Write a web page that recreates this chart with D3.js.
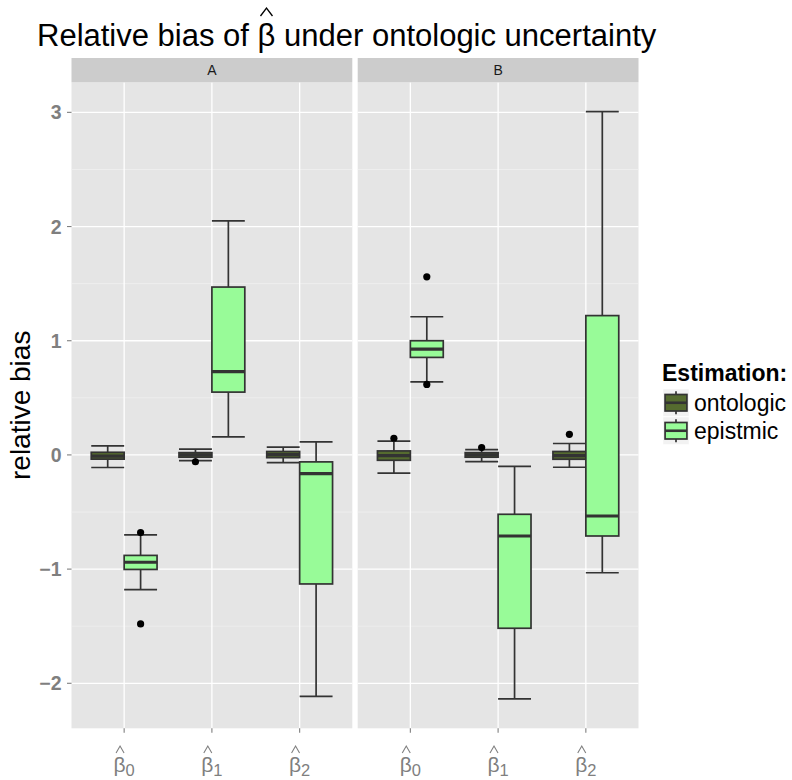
<!DOCTYPE html>
<html>
<head>
<meta charset="utf-8">
<script src="https://cdn.jsdelivr.net/npm/d3@7"></script>
<style>
  html, body { margin: 0; padding: 0; background: #ffffff; }
  svg { display: block; font-family: "Liberation Sans", Arial, Helvetica, sans-serif; }
</style>
</head>
<body>
<svg id="chart" width="792" height="780"></svg>
<script>
// ---- data -------------------------------------------------------------
const facets = ["A", "B"];
const params = ["b0", "b1", "b2"];
const paramSubscripts = ["0", "1", "2"];
const estimations = ["ontologic", "epistmic"];
const yTicks = [-2, -1, 0, 1, 2, 3];

// one entry per facet x parameter x estimation (A: b0 ont, b0 epi, b1 ont, ...)
const groupFacet = ["A","A","A","A","A","A","B","B","B","B","B","B"];
const groupParam = ["b0","b0","b1","b1","b2","b2","b0","b0","b1","b1","b2","b2"];
const groupEst   = ["ontologic","epistmic","ontologic","epistmic","ontologic","epistmic",
                    "ontologic","epistmic","ontologic","epistmic","ontologic","epistmic"];
const lowerWhisker = [-0.11, -1.18, -0.05, 0.158, -0.068, -2.114, -0.16, 0.64, -0.059, -2.137, -0.108, -1.032];
const lowerHinge   = [-0.037, -1.003, -0.02, 0.55, -0.024, -1.13, -0.047, 0.854, -0.02, -1.518, -0.038, -0.71];
const medians      = [-0.01, -0.94, 0.0, 0.73, 0.003, -0.164, -0.006, 0.927, 0.0, -0.71, -0.006, -0.535];
const upperHinge   = [0.023, -0.88, 0.02, 1.47, 0.03, -0.061, 0.035, 1.0, 0.02, -0.52, 0.03, 1.22];
const upperWhisker = [0.08, -0.70, 0.05, 2.05, 0.068, 0.114, 0.12, 1.21, 0.047, -0.1, 0.10, 3.006];

// outlying points: group index and value
const outlierGroup = [1, 1, 2, 6, 7, 7, 8, 10];
const outlierValue = [-0.68, -1.48, -0.06, 0.146, 1.56, 0.617, 0.064, 0.18];

// ---- styling ----------------------------------------------------------
const fills = { ontologic: "#556B2F", epistmic: "#98FB98" };
const boxLine = "#333333";
const axisGrey = "#7F7F7F";

const svg = d3.select("#chart");

const panelTop = 82.3, panelBottom = 728.3;
const panelX = { A: [71.5, 352.3], B: [357.7, 638.5] };
const stripTop = 58;

// y scale with 5% expansion around data range
const allVals = lowerWhisker.concat(upperWhisker, outlierValue);
const yMin = d3.min(allVals), yMax = d3.max(allVals);
const pad = (yMax - yMin) * 0.05;
const y = d3.scaleLinear().domain([yMin - pad, yMax + pad]).range([panelBottom, panelTop]);

const xScales = {};
facets.forEach(f => {
  xScales[f] = d3.scalePoint().domain(params).range(panelX[f]).padding(0.6);
});
const step = xScales.A.step();
const dodge = d3.scaleBand().domain(estimations).range([-0.375 * step, 0.375 * step]).paddingInner(0);

// ---- panels, grid, strips --------------------------------------------
const minorTicks = d3.range(-2.5, 3.51, 1).filter(v => v > y.domain()[0] && v < y.domain()[1]);

facets.forEach(f => {
  const [x0, x1] = panelX[f];
  const g = svg.append("g");
  g.append("rect").attr("x", x0).attr("y", panelTop).attr("width", x1 - x0)
    .attr("height", panelBottom - panelTop).attr("fill", "#E5E5E5");
  g.selectAll("line.minor").data(minorTicks).join("line")
    .attr("x1", x0).attr("x2", x1).attr("y1", d => y(d)).attr("y2", d => y(d))
    .attr("stroke", "#F2F2F2").attr("stroke-width", 0.7);
  g.selectAll("line.majorY").data(yTicks).join("line")
    .attr("x1", x0).attr("x2", x1).attr("y1", d => y(d)).attr("y2", d => y(d))
    .attr("stroke", "#ffffff").attr("stroke-width", 1.3);
  g.selectAll("line.majorX").data(params).join("line")
    .attr("x1", d => xScales[f](d)).attr("x2", d => xScales[f](d))
    .attr("y1", panelTop).attr("y2", panelBottom)
    .attr("stroke", "#ffffff").attr("stroke-width", 1.3);

  // strip
  g.append("rect").attr("x", x0).attr("y", stripTop).attr("width", x1 - x0)
    .attr("height", panelTop - stripTop).attr("fill", "#CCCCCC");
  g.append("text").attr("x", (x0 + x1) / 2).attr("y", (stripTop + panelTop) / 2 + 5)
    .attr("text-anchor", "middle").attr("font-size", 14).attr("fill", "#1a1a1a").text(f);

  // x axis ticks
  g.selectAll("line.xtick").data(params).join("line")
    .attr("x1", d => xScales[f](d)).attr("x2", d => xScales[f](d))
    .attr("y1", panelBottom).attr("y2", panelBottom + 4.5)
    .attr("stroke", axisGrey).attr("stroke-width", 1.1);
});

// ---- boxplots ---------------------------------------------------------
const bw = dodge.bandwidth();
const groups = groupFacet.map((f, i) => ({
  f, p: groupParam[i], e: groupEst[i],
  lw: lowerWhisker[i], q1: lowerHinge[i], med: medians[i], q3: upperHinge[i], uw: upperWhisker[i]
}));

const boxes = svg.append("g").selectAll("g").data(groups).join("g")
  .attr("transform", d => `translate(${xScales[d.f](d.p) + dodge(d.e)},0)`);

// whisker stems
boxes.append("line").attr("x1", bw / 2).attr("x2", bw / 2)
  .attr("y1", d => y(d.uw)).attr("y2", d => y(d.q3)).attr("stroke", boxLine).attr("stroke-width", 1.7);
boxes.append("line").attr("x1", bw / 2).attr("x2", bw / 2)
  .attr("y1", d => y(d.q1)).attr("y2", d => y(d.lw)).attr("stroke", boxLine).attr("stroke-width", 1.7);
// whisker caps
boxes.append("line").attr("x1", 0).attr("x2", bw)
  .attr("y1", d => y(d.uw)).attr("y2", d => y(d.uw)).attr("stroke", boxLine).attr("stroke-width", 1.7);
boxes.append("line").attr("x1", 0).attr("x2", bw)
  .attr("y1", d => y(d.lw)).attr("y2", d => y(d.lw)).attr("stroke", boxLine).attr("stroke-width", 1.7);
// box
boxes.append("rect").attr("x", 0).attr("width", bw)
  .attr("y", d => y(d.q3)).attr("height", d => Math.max(0.5, y(d.q1) - y(d.q3)))
  .attr("fill", d => fills[d.e]).attr("stroke", boxLine).attr("stroke-width", 1.7);
// median
boxes.append("line").attr("x1", 0).attr("x2", bw)
  .attr("y1", d => y(d.med)).attr("y2", d => y(d.med)).attr("stroke", boxLine).attr("stroke-width", 3.2);

// outliers
svg.append("g").selectAll("circle").data(outlierGroup.map((gi, k) => ({ g: groups[gi], v: outlierValue[k] })))
  .join("circle")
  .attr("cx", d => xScales[d.g.f](d.g.p) + dodge(d.g.e) + bw / 2)
  .attr("cy", d => y(d.v)).attr("r", 3.6).attr("fill", "#000000");

// ---- y axis -----------------------------------------------------------
const yAxis = svg.append("g");
yAxis.selectAll("line").data(yTicks).join("line")
  .attr("x1", panelX.A[0] - 4.5).attr("x2", panelX.A[0])
  .attr("y1", d => y(d)).attr("y2", d => y(d)).attr("stroke", axisGrey).attr("stroke-width", 1.1);
yAxis.selectAll("text").data(yTicks).join("text")
  .attr("x", panelX.A[0] - 10).attr("y", d => y(d) + 7)
  .attr("text-anchor", "end").attr("font-size", 19.5).attr("font-weight", "bold").attr("fill", axisGrey)
  .text(d => d < 0 ? "\u2212" + Math.abs(d) : String(d));

svg.append("text").attr("transform", `translate(30,${(panelTop + panelBottom) / 2}) rotate(-90)`)
  .attr("text-anchor", "middle").attr("font-size", 28).attr("fill", "#000").text("relative bias");

// ---- hat helper -------------------------------------------------------
function hat(g, cx, top, w, h, color, sw) {
  g.append("path")
    .attr("d", `M${cx - w / 2},${top + h} L${cx},${top} L${cx + w / 2},${top + h}`)
    .attr("fill", "none").attr("stroke", color).attr("stroke-width", sw);
}

// ---- x tick labels (beta hat with subscript) -------------------------
facets.forEach(f => {
  params.forEach((p, i) => {
    const cx = xScales[f](p);
    const g = svg.append("g");
    const t = g.append("text").attr("y", 771.5).attr("fill", axisGrey).attr("font-size", 21);
    const b = t.append("tspan").text("\u03B2");
    t.append("tspan").attr("dy", 4).attr("font-size", 16.5).text(paramSubscripts[i]);
    const total = t.node().getComputedTextLength();
    const left = cx - total / 2;
    t.attr("x", left);
    const bLen = b.node().getComputedTextLength();
    hat(g, left + bLen / 2 + 0.5, 746, 8, 7, axisGrey, 1.1);
  });
});

// ---- title ------------------------------------------------------------
const title = svg.append("g");
const tt = title.append("text").attr("x", 37).attr("y", 46).attr("font-size", 31).attr("fill", "#000");
const t1 = tt.append("tspan").text("Relative bias of ");
const tb = tt.append("tspan").text("\u03B2");
tt.append("tspan").text(" under ontologic uncertainty");
const pre = t1.node().getComputedTextLength();
const bl = tb.node().getComputedTextLength();
hat(title, 37 + pre + bl / 2, 8, 12, 8, "#000", 1.3);

// ---- legend -----------------------------------------------------------
const legend = svg.append("g");
legend.append("text").attr("x", 662).attr("y", 381).attr("font-size", 23).attr("font-weight", "bold")
  .attr("fill", "#000").text("Estimation:");
const keyW = 26, keyH = 27.5, keyX = 663, keyY0 = 389;
estimations.forEach((e, i) => {
  const ky = keyY0 + i * (keyH + 0.5);
  const k = legend.append("g");
  k.append("rect").attr("x", keyX).attr("y", ky).attr("width", keyW).attr("height", keyH)
    .attr("fill", "#F2F2F2").attr("stroke", "#ffffff").attr("stroke-width", 0.5);
  const cx = keyX + keyW / 2;
  k.append("line").attr("x1", cx).attr("x2", cx).attr("y1", ky + keyH * 0.08).attr("y2", ky + keyH * 0.92)
    .attr("stroke", boxLine).attr("stroke-width", 1.7);
  k.append("rect").attr("x", keyX + keyW * 0.08).attr("width", keyW * 0.84)
    .attr("y", ky + keyH * 0.2).attr("height", keyH * 0.6)
    .attr("fill", fills[e]).attr("stroke", boxLine).attr("stroke-width", 1.7);
  k.append("line").attr("x1", keyX + keyW * 0.08).attr("x2", keyX + keyW * 0.92)
    .attr("y1", ky + keyH / 2).attr("y2", ky + keyH / 2).attr("stroke", boxLine).attr("stroke-width", 2.6);
  k.append("text").attr("x", 694).attr("y", ky + keyH / 2 + 8).attr("font-size", 23)
    .attr("fill", "#000").text(e);
});
</script>
</body>
</html>
